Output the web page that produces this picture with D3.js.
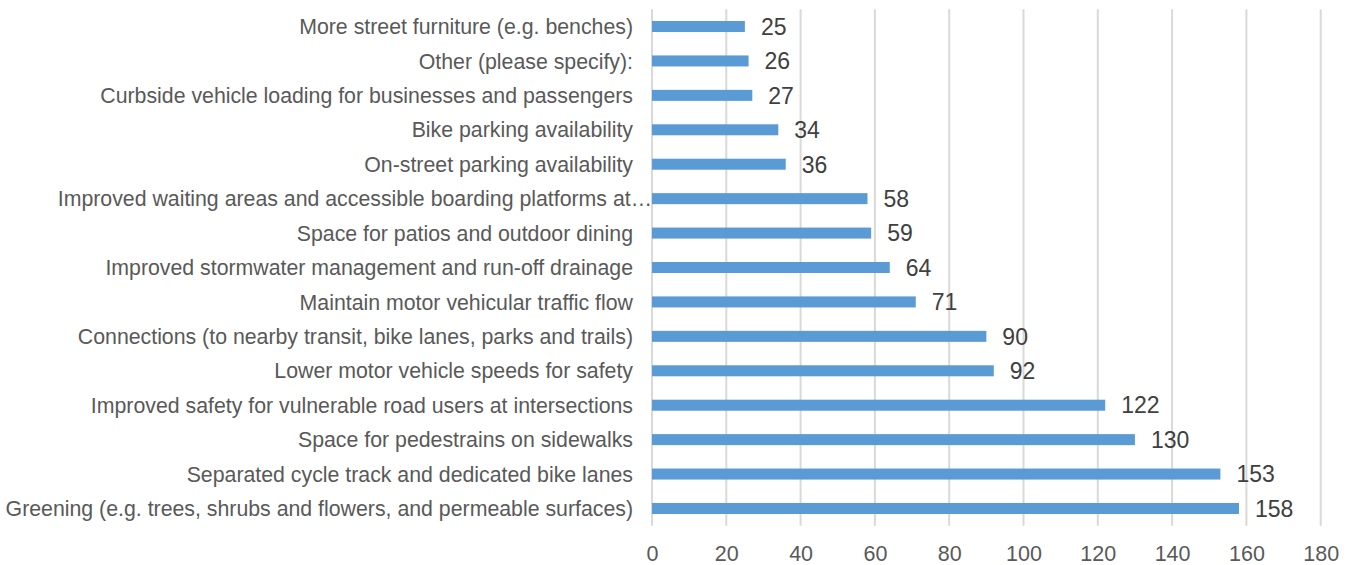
<!DOCTYPE html>
<html><head><meta charset="utf-8">
<script src="https://cdn.jsdelivr.net/npm/d3@7"></script>
<style>body{margin:0;background:#fff}svg{display:block}</style>
</head><body>
<svg id="c" width="1356" height="565"></svg>
<script>
const categories = [
  "More street furniture (e.g. benches)",
  "Other (please specify):",
  "Curbside vehicle loading for businesses and passengers",
  "Bike parking availability",
  "On-street parking availability",
  "Improved waiting areas and accessible boarding platforms at…",
  "Space for patios and outdoor dining",
  "Improved stormwater management and run-off drainage",
  "Maintain motor vehicular traffic flow",
  "Connections (to nearby transit, bike lanes, parks and trails)",
  "Lower motor vehicle speeds for safety",
  "Improved safety for vulnerable road users at intersections",
  "Space for pedestrains on sidewalks",
  "Separated cycle track and dedicated bike lanes",
  "Greening (e.g. trees, shrubs and flowers, and permeable surfaces)"
];
const values = [25, 26, 27, 34, 36, 58, 59, 64, 71, 90, 92, 122, 130, 153, 158];
const ticks = [0, 20, 40, 60, 80, 100, 120, 140, 160, 180];

const svg = d3.select("#c");
const x = d3.scaleLinear().domain([0, 180]).range([652, 1320.7]);
const y = d3.scaleBand().domain(categories).range([9.3, 525.7]).paddingInner(0.68).paddingOuter(0.34);
const font = "'Liberation Sans', Arial, sans-serif";

// gridlines
svg.append("g").selectAll("line").data(ticks).join("line")
  .attr("x1", d => x(d)).attr("x2", d => x(d))
  .attr("y1", 9.3).attr("y2", 525.7)
  .attr("stroke", "#d9d9d9").attr("stroke-width", 2);

// bars
svg.append("g").selectAll("rect").data(values).join("rect")
  .attr("x", x(0)).attr("y", (d, i) => y(categories[i]))
  .attr("width", d => x(d) - x(0)).attr("height", y.bandwidth())
  .attr("fill", "#5b9bd5");

// value labels
svg.append("g").selectAll("text").data(values).join("text")
  .attr("x", d => x(d) + 16).attr("y", (d, i) => y(categories[i]) + y.bandwidth() / 2)
  .attr("dy", "0.36em")
  .attr("font-family", font).attr("font-size", 23).attr("fill", "#404040")
  .text(d => d);

// category axis labels
const yAxis = d3.axisLeft(y).tickSize(0).tickPadding(19);
const gy = svg.append("g").attr("transform", `translate(${x(0)},0)`).call(yAxis);
gy.select(".domain").remove();
gy.selectAll("text").attr("font-family", font).attr("font-size", 21.3).attr("fill", "#595959")
  .attr("dy", "0.36em")
  .attr("dx", d => d.endsWith("…") ? 19 : 0);

// x axis
const xAxis = d3.axisBottom(x).tickValues(ticks).tickSize(0).tickPadding(0);
const gx = svg.append("g").attr("transform", "translate(0,553)").call(xAxis);
gx.select(".domain").remove();
gx.selectAll("text").attr("font-family", font).attr("font-size", 21.5).attr("fill", "#595959")
  .attr("dy", "0.36em");
</script>
</body></html>
